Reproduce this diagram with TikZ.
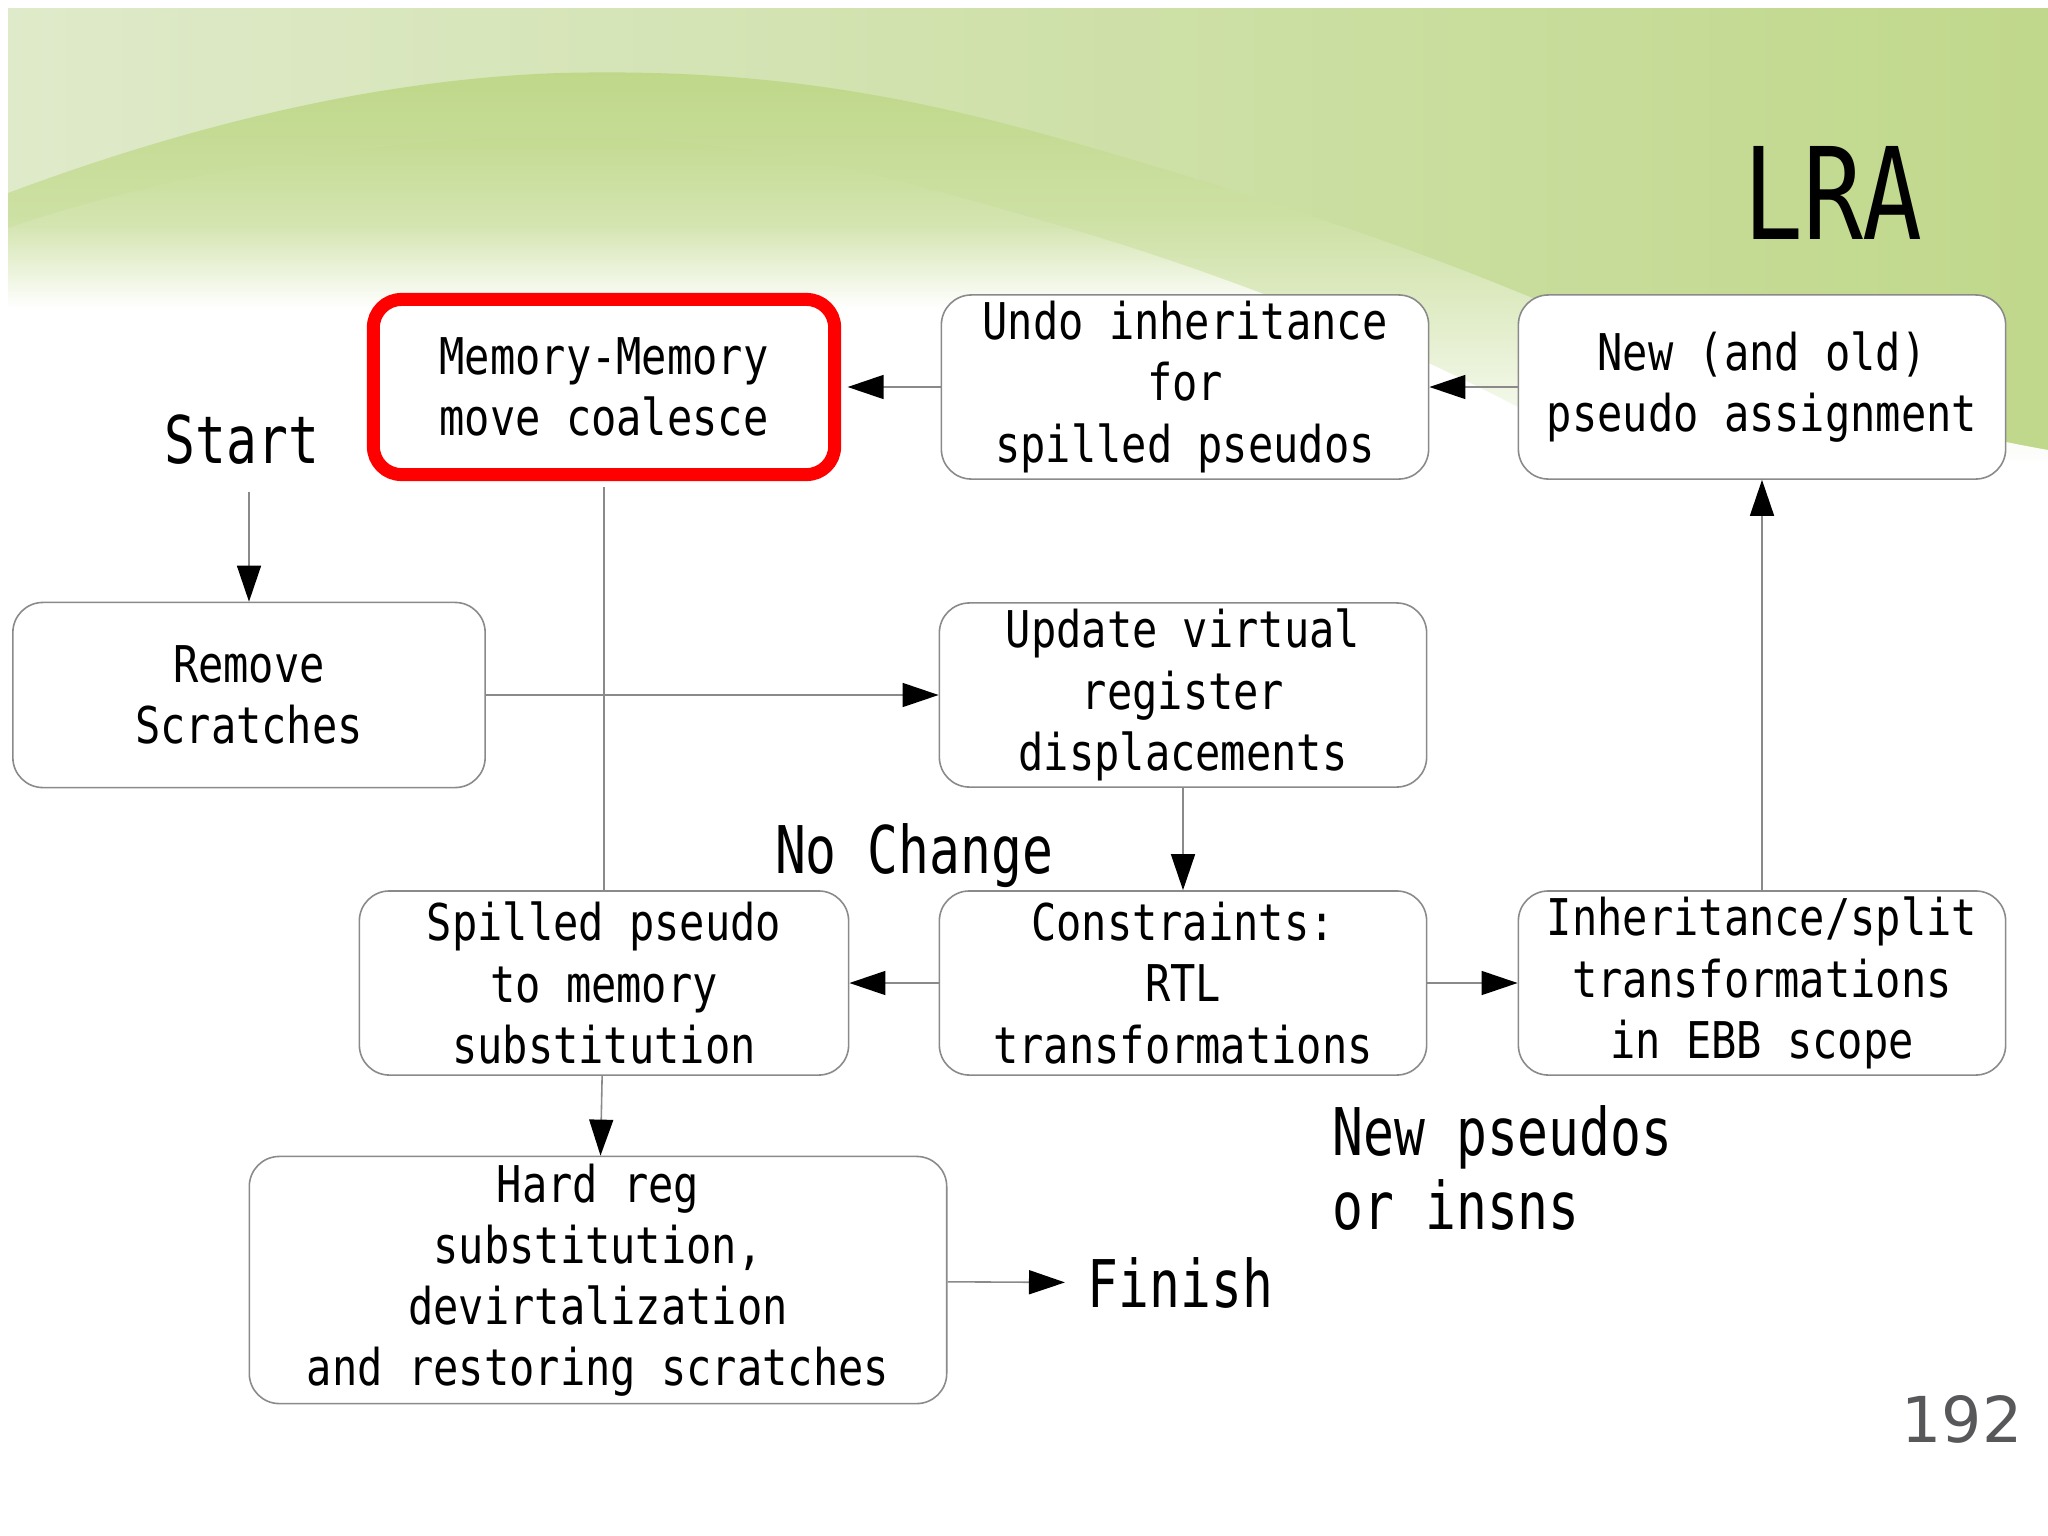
\documentclass[tikz,border=0pt]{standalone}
\usepackage{fontspec}
\newfontfamily\boxfont[FakeStretch=0.83]{DejaVu Sans Mono}
\newfontfamily\lblfont[FakeStretch=0.78]{DejaVu Sans Mono}
\newfontfamily\pagefont{DejaVu Sans}
\usetikzlibrary{arrows.meta}
\usetikzlibrary{positioning}
\definecolor{lragreen}{HTML}{C0D88B}
\definecolor{lrapale}{HTML}{DFEACA}
\definecolor{lrahill}{HTML}{BED788}
\definecolor{boxgray}{HTML}{8A8A8A}
\definecolor{numgray}{HTML}{58585A}
\pgfdeclareverticalshading{hilltwo}{100bp}{color(0bp)=(white); color(52bp)=(white);
  color(63bp)=(lrahill!65!white); color(75bp)=(lrahill!92!white); color(100bp)=(lrahill)}
\pgfdeclareverticalshading{hillone}{100bp}{color(0bp)=(white); color(30bp)=(white);
  color(58bp)=(lrahill!76!white); color(75bp)=(lrahill); color(100bp)=(lrahill)}

\begin{document}
\begin{tikzpicture}[
  x=0.01cm, y=-0.01cm,
  box/.style={draw=boxgray, line width=0.45pt, rounded corners=0.3cm, fill=white,
    align=center, minimum width=4.87cm, minimum height=1.84cm, inner sep=0pt,
    font=\boxfont\fontsize{14.4}{17.4}\selectfont},
  redbox/.style={box, draw=red, line width=3.7pt, rounded corners=0.28cm,
    minimum width=4.61cm, minimum height=1.75cm},
  lbl/.style={font=\lblfont\fontsize{18.7}{21}\selectfont, inner sep=0pt},
  flow/.style={draw=boxgray, line width=0.45pt,
    -{Triangle[length=3.6mm,width=2.4mm,color=black]}},
  link/.style={draw=boxgray, line width=0.45pt},
]
\useasboundingbox (0,0) rectangle (2048,1536);
\fill[white] (0,0) rectangle (2048,1536);

% slide background
\shade[left color=lrapale, middle color=lragreen!80!lrapale, right color=lragreen]
  (8,8) rectangle (2048,470);
\shade[shading=hillone]
  (8,193) .. controls (150,140) and (350,80) .. (560,73)
  .. controls (760,68) and (900,95) .. (1040,133)
  .. controls (1200,178) and (1380,235) .. (1520,293)
  .. controls (1700,365) and (1880,420) .. (2048,450)
  -- (2048,510) -- (0,510) -- (0,193) -- cycle;
\shade[shading=hilltwo]
  (8,228) .. controls (150,180) and (350,137) .. (560,137)
  .. controls (760,137) and (900,180) .. (1040,220)
  .. controls (1200,265) and (1400,340) .. (1560,430)
  -- (1560,510) -- (0,510) -- (0,228) -- cycle;
\fill[white] (0,0) rectangle (8,520);

% title and page number
\node[font=\lblfont\fontsize{36.3}{40}\selectfont, inner sep=0pt] (title) at (1833,193) {LRA};
\node[font=\pagefont\fontsize{18}{20}\selectfont, text=numgray, inner sep=0pt] (pnum) at (1962,1419) {192};

% passes
\node[redbox] (mem) at (604,387) {Memory-Memory\\move coalesce};
\node[box] (undo) at (1185,387) {Undo inheritance\\for\\spilled pseudos};
\node[box] (newa) at (1762,387) {New (and old)\\pseudo assignment};
\node[box, minimum width=4.72cm, minimum height=1.85cm] (rem) at (249,695) {Remove\\Scratches};
\node[box] (upd) at (1183,695) {Update virtual\\register\\displacements};
\node[box, minimum width=4.89cm] (spill) at (604,983) {Spilled pseudo\\to memory\\substitution};
\node[box] (cons) at (1183,983) {Constraints:\\RTL\\transformations};
\node[box] (inh) at (1762,983) {Inheritance/split\\transformations\\in EBB scope};
\node[box, minimum width=6.97cm, minimum height=2.47cm] (hard) at (598,1280)
  {Hard reg\\substitution,\\devirtalization\\and restoring scratches};

% labels
\node[lbl] (start) at (242,440) {Start};
\node[lbl] (nochg) at (914,856) {No Change};
\node[lbl, anchor=west, align=left] (newps) at (1332,1168) {New pseudos\\or insns};
\node[lbl, anchor=west] (fin) at (1087,1283) {Finish};

% connectors
\draw[flow, shorten <=0.26cm] (rem.north |- start.south) -- (rem.north);
\draw[flow] (rem) -- (upd);
\draw[link, shorten <=0.06cm] (mem) -- (spill);
\draw[flow] (upd) -- (cons);
\draw[flow] (cons) -- (spill);
\draw[flow] (cons) -- (inh);
\draw[flow] (inh) -- (newa);
\draw[flow] (newa) -- (undo);
\draw[flow, shorten >=0.065cm] (undo) -- (mem);
\draw[flow] (spill) -- (hard);
\draw[flow, shorten >=0.22cm] (hard) -- (fin);
\end{tikzpicture}
\end{document}
